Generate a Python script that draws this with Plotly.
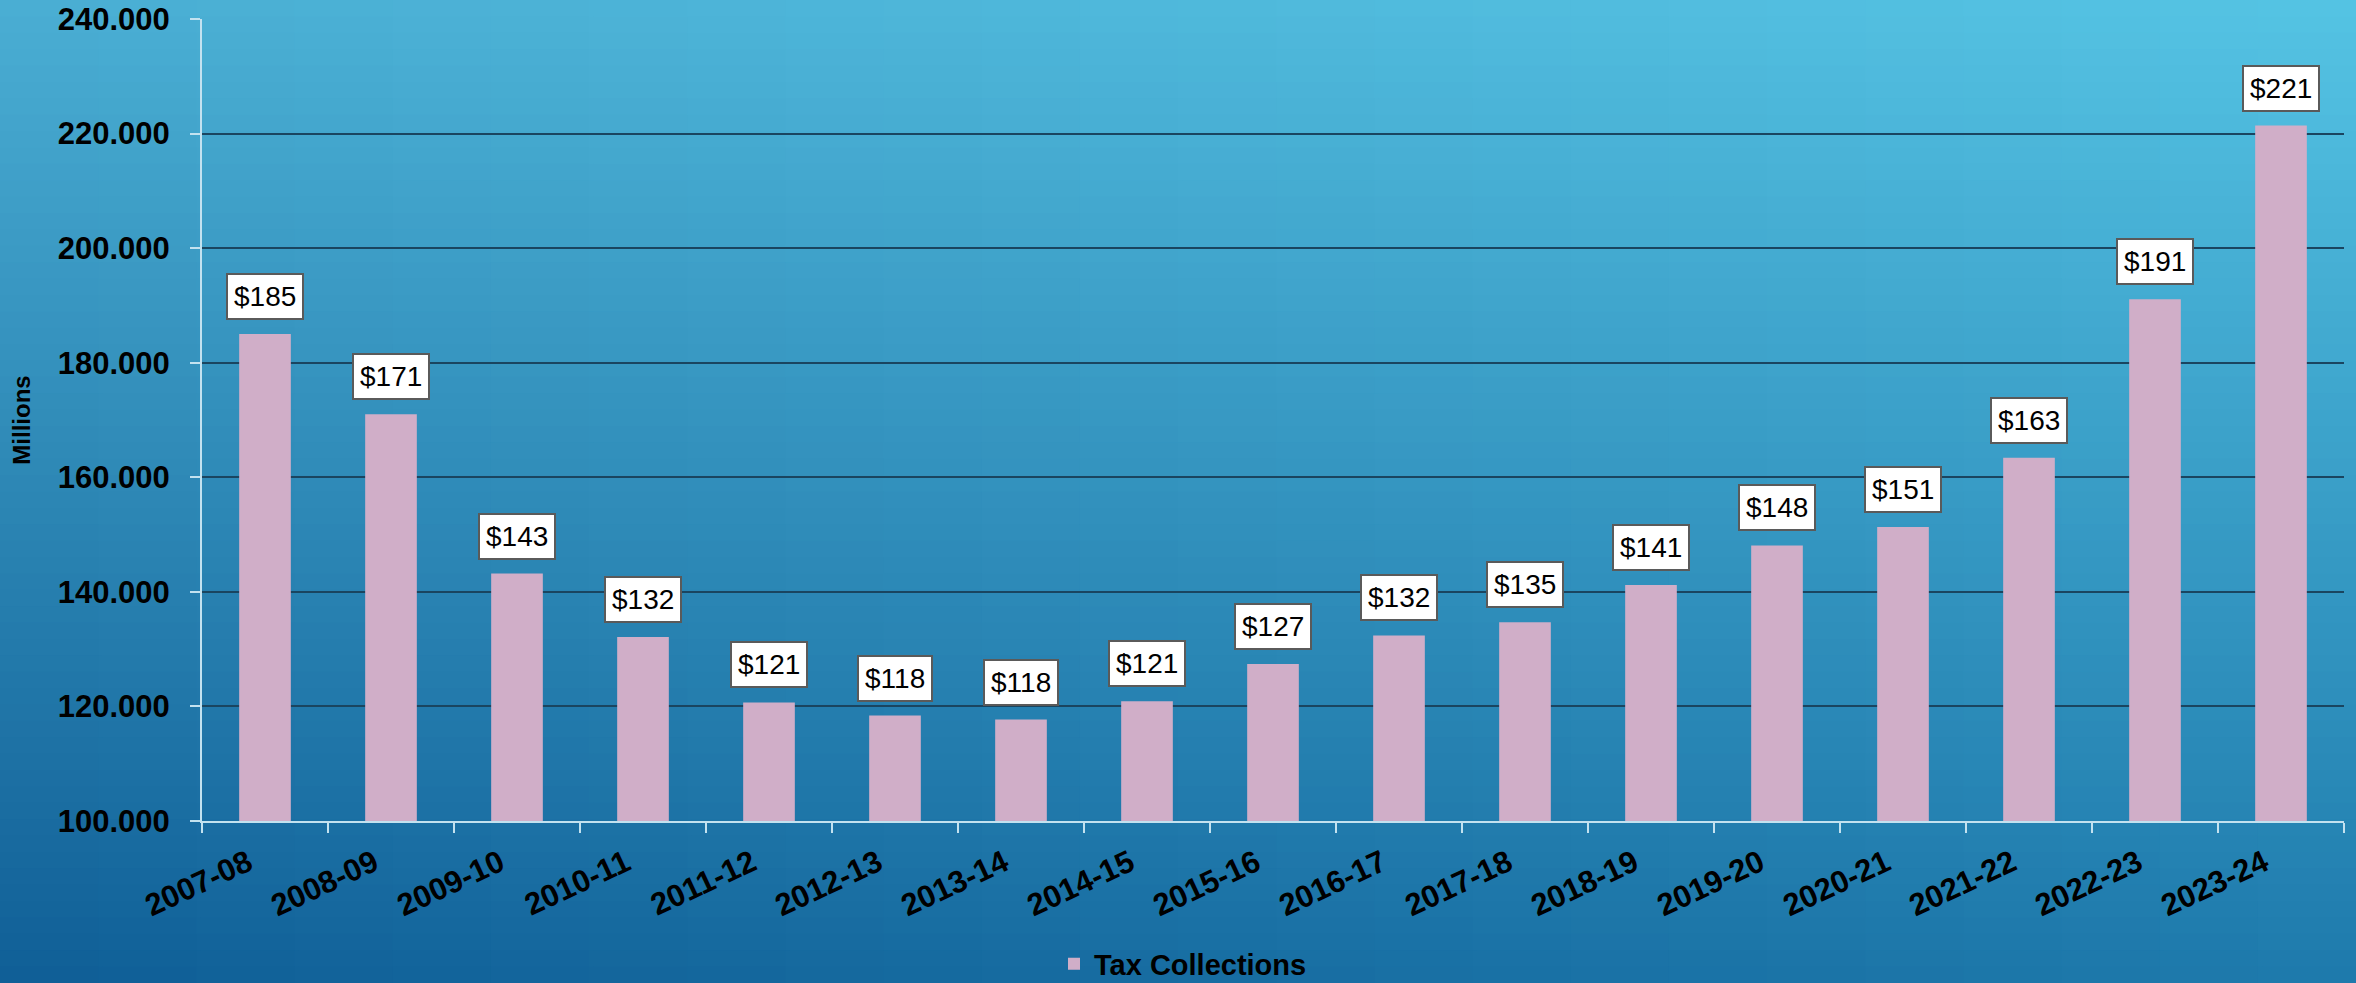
import plotly.graph_objects as go

# ---- data ----
years = ["2007-08", "2008-09", "2009-10", "2010-11", "2011-12", "2012-13",
         "2013-14", "2014-15", "2015-16", "2016-17", "2017-18", "2018-19",
         "2019-20", "2020-21", "2021-22", "2022-23", "2023-24"]
tax_collections = [185.0, 171.0, 143.2, 132.1, 120.7, 118.4, 117.7, 120.9,
                   127.4, 132.4, 134.7, 141.2, 148.1, 151.3, 163.4, 191.1, 221.4]
y_ticks = [100, 120, 140, 160, 180, 200, 220, 240]
series_name = "Tax Collections"

# ---- style ----
W, H = 2356, 983
ML, MR, MT, MB = 202, 12, 19, 162
FONT = "Liberation Sans, Arial, sans-serif"
BAR = "#d0aec8"
GRID = "#1a4560"
AXIS = "#c3e2f0"

fig = go.Figure()
fig.add_trace(go.Bar(
    x=years, y=tax_collections, name=series_name,
    marker=dict(color=BAR, line=dict(width=0)),
    showlegend=True,
))

# data label boxes
for yr, v in zip(years, tax_collections):
    fig.add_annotation(
        x=yr, y=v, xref="x", yref="y", text=f"${round(v):d}",
        showarrow=False, yanchor="bottom", yshift=14,
        font=dict(family=FONT, size=28, color="black"),
        bgcolor="white", bordercolor="#5a5a5a", borderwidth=2, borderpad=6,
    )

# background gradient (shapes in paper coordinates covering the whole page)
pw = W - ML - MR
ph = H - MT - MB
x0p, x1p = -ML / pw, (W - ML) / pw
y0p, y1p = -MB / ph, (H - MB) / ph
TL = (74, 174, 211)
TR = (85, 196, 228)
BL = (15, 94, 150)
BR = (30, 122, 172)
rows, cols = 60, 24
shapes = []
for i in range(rows):
    ty = i / rows
    for j in range(cols):
        tx = j / cols
        cy = ty + 0.5 / rows
        cx = tx + 0.5 / cols
        c = []
        for k in range(3):
            top = TL[k] + (TR[k] - TL[k]) * cx
            bot = BL[k] + (BR[k] - BL[k]) * cx
            c.append(round(bot + (top - bot) * cy))
        col = "rgb(%d,%d,%d)" % tuple(c)
        shapes.append(dict(
            type="rect", xref="paper", yref="paper", layer="below",
            x0=x0p + (x1p - x0p) * tx, x1=x0p + (x1p - x0p) * (tx + 1 / cols) + 0.002,
            y0=y0p + (y1p - y0p) * ty, y1=y0p + (y1p - y0p) * (ty + 1 / rows) + 0.003,
            fillcolor=col, line=dict(width=0),
        ))

fig.update_layout(
    width=W, height=H,
    margin=dict(l=ML, r=MR, t=MT, b=MB, autoexpand=False),
    paper_bgcolor="rgb(45,135,185)",
    plot_bgcolor="rgba(0,0,0,0)",
    shapes=shapes,
    bargap=0.59,
    font=dict(family=FONT, color="black"),
    showlegend=True,
    legend=dict(
        orientation="h", x=(1183 - ML) / pw, xanchor="center",
        y=(H - MB - 964) / ph, yanchor="middle",
        font=dict(family=FONT, size=29, color="black", weight="bold"),
        bgcolor="rgba(0,0,0,0)",
    ),
    xaxis=dict(
        type="category", tickson="boundaries",
        showgrid=False, showline=True, linecolor=AXIS, linewidth=2,
        ticks="outside", ticklen=10, tickcolor=AXIS, tickwidth=2,
        tickangle=-25, ticklabelshift=-17, ticklabelstandoff=10,
        tickfont=dict(family=FONT, size=31, color="black", weight="bold"),
        automargin=False,
    ),
    yaxis=dict(
        range=[100, 240], tickvals=y_ticks, tickformat=".3f",
        showgrid=True, gridcolor=GRID, gridwidth=2,
        showline=True, linecolor=AXIS, linewidth=2,
        ticks="outside", ticklen=10, tickcolor=AXIS, tickwidth=2,
        ticklabelstandoff=14,
        tickfont=dict(family=FONT, size=31, color="black", weight="bold"),
        title=dict(text="Millions", standoff=20,
                   font=dict(family=FONT, size=24, color="black", weight="bold")),
        zeroline=False, automargin=False,
    ),
)

fig.write_html(
    "out.html",
    config={"displayModeBar": False},
    post_script="document.body.style.margin='0';document.body.style.overflow='hidden';",
)
